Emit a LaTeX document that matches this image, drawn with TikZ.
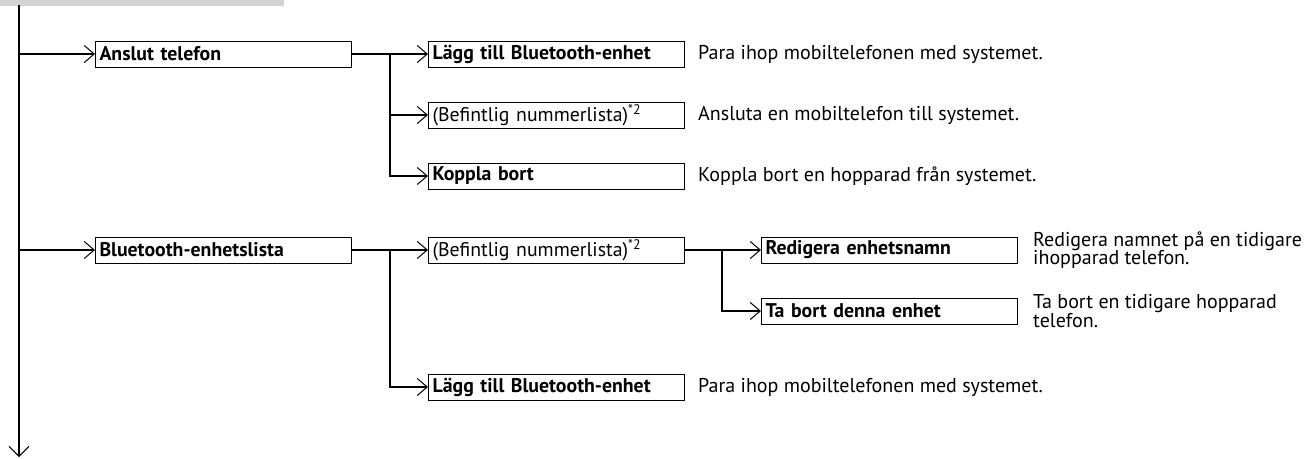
\documentclass[tikz,border=0pt]{standalone}
\usepackage{fontspec}
\setmainfont{PT Sans}
\usetikzlibrary{arrows.meta,positioning}
\definecolor{bargrey}{RGB}{211,211,211}

\begin{document}
\begin{tikzpicture}[
  x=1pt, y=-1pt,
  node distance=34pt and 76pt,
  entry/.style={rectangle, draw=black, line width=1pt, minimum width=256pt, minimum height=26pt, inner xsep=4pt, inner ysep=0pt, text width=248pt, align=left, font=\fontsize{19.8}{20}\selectfont\bfseries},
  plainentry/.style={entry, font=\fontsize{19.8}{20}\selectfont},
  note/.style={inner sep=0pt, align=left, font=\fontsize{20}{18.5}\selectfont},
  link/.style={line width=2pt, -{Straight Barb[length=10pt, width=17pt, line width=1pt]}},
  trunk/.style={line width=2pt, -{Straight Barb[length=10pt, width=20pt, line width=1pt]}},
  fork/.style={line width=2pt}
]
\useasboundingbox (0,0) rectangle (1316,458);
\fill[bargrey] (0,0) rectangle (284,6);

% first level
\node[entry] (anslut) at (223.5,54) {Anslut telefon};
\node[entry] (btlist) at (223.5,250) {Bluetooth-enhetslista};

% second level
\node[entry, right=of anslut] (addA) {Lägg till Bluetooth-enhet};
\node[plainentry, below=of addA] (listA) {(Befintlig nummerlista)\textsuperscript{*2}};
\node[entry, below=of listA] (koppla) {Koppla bort};
\node[plainentry, right=of btlist] (listB) {(Befintlig nummerlista)\textsuperscript{*2}};
\node[entry, below=110pt of listB] (addB) {Lägg till Bluetooth-enhet};

% third level
\node[entry, right=of listB] (rename) {Redigera enhetsnamn};
\node[entry, below=of rename] (remove) {Ta bort denna enhet};

% descriptions
\node[note, right=13pt of addA] (addAtxt) {Para ihop mobiltelefonen med systemet.};
\node[note, right=13pt of listA] (listAtxt) {Ansluta en mobiltelefon till systemet.};
\node[note, right=13pt of koppla] (kopplatxt) {Koppla bort en hopparad från systemet.};
\node[note, right=13pt of addB] (addBtxt) {Para ihop mobiltelefonen med systemet.};
\node[note, right=15pt of rename] (renametxt) {Redigera namnet på en tidigare\\ihopparad telefon.};
\node[note, right=15pt of remove] (removetxt) {Ta bort en tidigare hopparad\\telefon.};

% connectors
\coordinate (top) at (19,5);
\coordinate (bottom) at (19,457);
\coordinate (forkA) at (390,0);
\coordinate (forkB) at (722,0);

\draw[trunk] (top) -- (bottom);
\draw[link] (top |- anslut) -- (anslut.west);
\draw[link] (top |- btlist) -- (btlist.west);

\draw[link] (anslut.east) -- (addA.west);
\draw[link] (forkA |- anslut) |- (listA.west);
\draw[link] (forkA |- anslut) |- (koppla.west);

\draw[link] (btlist.east) -- (listB.west);
\draw[link] (forkA |- btlist) |- (addB.west);

\draw[link] (listB.east) -- (rename.west);
\draw[link] (forkB |- listB) |- (remove.west);
\end{tikzpicture}
\end{document}
